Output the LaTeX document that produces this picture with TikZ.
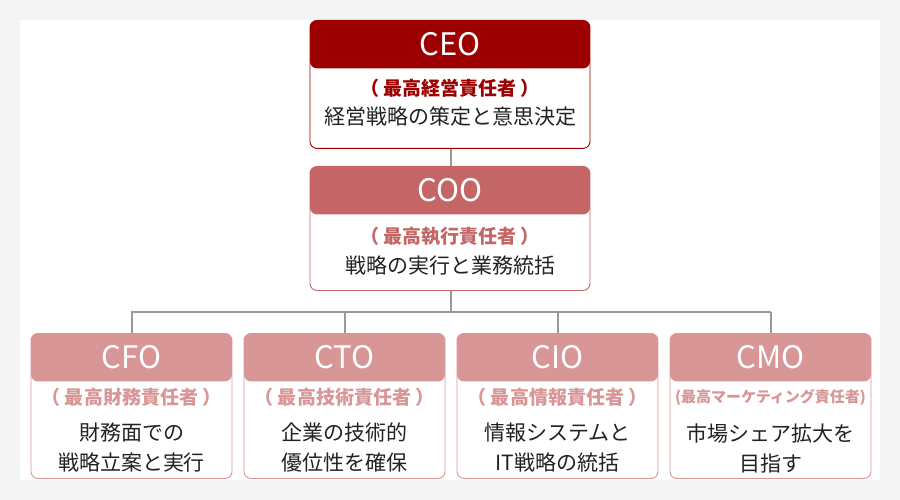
\documentclass[tikz,border=0pt]{standalone}
\usepackage{fontspec}
\setmainfont{Noto Sans CJK JP}
\definecolor{cA}{HTML}{9C0000}
\definecolor{cB}{HTML}{C46666}
\definecolor{cC}{HTML}{D89696}
\definecolor{bg}{HTML}{F4F4F4}
\definecolor{ln}{HTML}{999999}
\definecolor{tx}{HTML}{222222}
\newcommand{\orgbox}[9]{%
  \node[draw=#6, line width=0.9pt, rounded corners=7pt, minimum width=#4pt, minimum height=#5pt, anchor=north,
    path picture={\fill[#6] (path picture bounding box.north west) rectangle ([yshift=-48pt]path picture bounding box.north east);}]
    (#1) at (#2,#3) {};
  \node[title] at ([yshift=-24pt]#1.north) {#7};
  \node[sub, text=#6] at ([yshift=-\subo pt]#1.north) {#8};
  \node[body] at ([yshift=-\bodo pt]#1.north) {#9};
}
\begin{document}
\begin{tikzpicture}[x=1pt,y=-1pt,
  title/.style={text=white, font=\fontsize{31}{32}\selectfont},
  sub/.style={font=\bfseries\fontsize{19}{21}\selectfont},
  body/.style={text=tx, font=\fontsize{21}{30}\selectfont, align=center, inner sep=0pt},
  conn/.style={draw=ln, line width=2pt}]
\fill[bg] (0,0) rectangle (900,500);
\fill[white] (20,20) rectangle (880,480);
\useasboundingbox (0,0) rectangle (900,500);
\coordinate (hub) at (451,312);
\coordinate (hl) at (131,312);
\coordinate (hr) at (771,312);
\draw[conn] (451,148) -- (451,166);
\draw[conn] (451,290) -- (hub);
\draw[conn] (hl) -- (hr);
\foreach \x in {131.5,344.5,557.5,770.5} \draw[conn] (\x,312) -- (\x,334);
\def\subo{68}\def\bodo{97}
\orgbox{ceo}{450}{20}{280}{128}{cA}{CEO}{（ 最高経営責任者 ）}{経営戦略の策定と意思決定}
\def\subo{70}\def\bodo{100}
\orgbox{coo}{450}{166}{280}{124}{cB}{COO}{（ 最高執行責任者 ）}{戦略の実行と業務統括}
\def\subo{64}\def\bodo{115}
\orgbox{cfo}{131.5}{333}{201}{145}{cC}{CFO}{（ 最高財務責任者 ）}{財務面での\\戦略立案と実行}
\orgbox{cto}{344.5}{333}{201}{145}{cC}{CTO}{（ 最高技術責任者 ）}{企業の技術的\\優位性を確保}
\orgbox{cio}{557.5}{333}{201}{145}{cC}{CIO}{（ 最高情報責任者 ）}{情報システムと\\IT戦略の統括}
\orgbox{cmo}{770.5}{333}{201}{145}{cC}{CMO}{\fontsize{15}{17}\selectfont(最高マーケティング責任者)}{市場シェア拡大を\\目指す}
\end{tikzpicture}
\end{document}
